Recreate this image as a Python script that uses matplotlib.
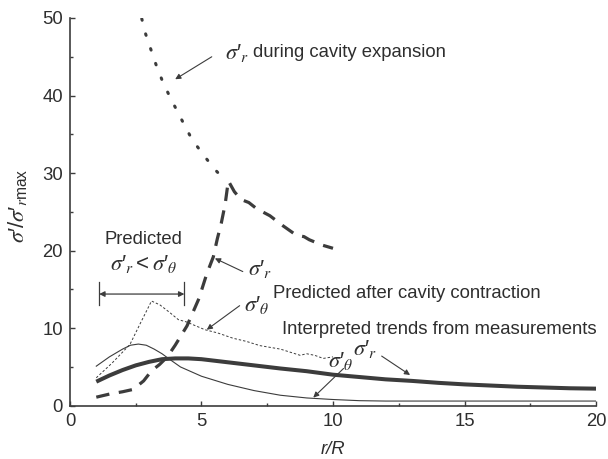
import matplotlib
matplotlib.use("Agg")
import matplotlib.pyplot as plt

plt.rcParams["font.family"] = ["Liberation Sans", "DejaVu Sans"]
plt.rcParams["mathtext.fontset"] = "custom"
plt.rcParams["mathtext.it"] = "STIXGeneral:italic"
plt.rcParams["mathtext.rm"] = "Liberation Sans"
plt.rcParams["mathtext.sf"] = "Liberation Sans"
plt.rcParams["mathtext.fallback"] = "stix"

INK = "#3c3c3c"
TXT = "#2e2e2e"

# radial stress during cavity expansion (dotted)
exp_r = [2.73, 2.88, 3.08, 3.27, 3.50, 3.76, 4.03, 4.32, 4.63, 5.06, 5.50, 5.75]
exp_s = [49.9, 47.9, 45.9, 44.0, 42.0, 40.1, 38.3, 36.4, 34.4, 32.4, 30.5, 29.6]

# predicted radial stress after cavity contraction (thick dashed)
pr_r = [1.0, 1.5, 2.0, 2.4, 2.8, 3.1, 3.4, 3.7, 4.0, 4.45, 4.9, 5.2, 5.45, 5.6,
        5.75, 5.9, 6.02, 6.25, 6.5, 6.8, 7.1, 7.6, 8.1, 8.6, 8.9, 9.1, 9.6, 10.0]
pr_s = [1.1, 1.5, 1.8, 2.1, 3.2, 4.5, 5.3, 6.3, 7.8, 10.3, 13.8, 17.0, 19.2, 21.5,
        23.5, 26.0, 29.0, 27.6, 26.6, 26.2, 25.4, 24.5, 23.2, 22.0, 21.8, 21.4, 20.7, 20.3]

# predicted hoop stress after cavity contraction (fine dashed)
pt_r = [1.0, 1.6, 2.28, 2.7, 3.1, 3.42, 3.8, 4.12, 4.43, 5.13, 5.6, 6.2, 6.7, 7.22,
        8.0, 8.75, 9.0, 9.3, 9.63, 10.0]
pt_s = [3.6, 5.5, 7.9, 10.8, 13.5, 13.0, 12.0, 11.1, 10.8, 9.8, 9.4, 8.7, 8.3, 7.75,
        7.3, 6.5, 6.7, 6.5, 6.1, 6.3]

# interpreted radial trend from measurements (thick solid)
mr_r = [1, 1.5, 2, 2.5, 3, 3.5, 4, 4.5, 5, 6, 7, 8, 9, 10, 11, 12, 13, 14, 15, 16,
        17, 18, 19, 20]
mr_s = [3.1, 3.9, 4.6, 5.2, 5.65, 6.0, 6.1, 6.1, 6.0, 5.6, 5.2, 4.8, 4.45, 4.0,
        3.7, 3.4, 3.2, 2.95, 2.75, 2.6, 2.45, 2.35, 2.25, 2.2]

# interpreted hoop trend from measurements (thin solid)
mt_r = [1, 1.5, 2, 2.3, 2.6, 2.9, 3.2, 3.5, 3.74, 4.2, 5, 6, 7, 8, 9, 10, 11, 12,
        14, 16, 18, 20]
mt_s = [5.1, 6.3, 7.3, 7.8, 7.95, 7.8, 7.3, 6.7, 6.1, 5.0, 3.8, 2.75, 1.95, 1.35,
        1.0, 0.8, 0.65, 0.6, 0.6, 0.6, 0.6, 0.6]

x_ticks = [0, 5, 10, 15, 20]
y_ticks = [0, 10, 20, 30, 40, 50]

FS = 13.3
MS = 16

SR = "$\\sigma{\u2032}_r$"
ST = "$\\sigma{\u2032}_\\theta$"

fig = plt.figure(figsize=(6.08, 4.59), dpi=100)
ax = fig.add_axes([0.1151, 0.1161, 0.8652, 0.8447])

ax.plot(exp_r, exp_s, color=INK, lw=2.2, linestyle=(0, (0.5, 4.6)),
        dash_capstyle="round", solid_capstyle="round")
ax.plot(pr_r, pr_s, color=INK, lw=2.3, linestyle=(0, (4.2, 3.0)),
        dash_capstyle="butt")
ax.plot(pt_r, pt_s, color=INK, lw=0.7, linestyle=(0, (2.5, 2.0)))
ax.plot(mr_r, mr_s, color=INK, lw=2.9, solid_capstyle="butt")
ax.plot(mt_r, mt_s, color=INK, lw=0.8)

ax.set_xlim(0, 20)
ax.set_ylim(0, 50)
ax.set_xticks(x_ticks)
ax.set_yticks(y_ticks)
ax.set_xticks([2.5, 7.5, 12.5, 17.5], minor=True)
ax.set_yticks([5, 15, 25, 35, 45], minor=True)
ax.tick_params(which="both", direction="in", colors=INK, labelcolor=TXT,
               labelsize=FS, width=1.0)
ax.tick_params(which="major", length=3.8, pad=5)
ax.tick_params(which="minor", length=2.4)
for side in ("top", "right"):
    ax.spines[side].set_visible(False)
for side in ("left", "bottom"):
    ax.spines[side].set_color(INK)
    ax.spines[side].set_linewidth(1.2)

ax.set_xlabel("r/R", fontsize=FS, style="italic", color=TXT, labelpad=8)
ax.set_ylabel("$\\sigma{\u2032}/\\sigma{\u2032}_{r\\mathrm{max}}$", fontsize=MS,
              color=TXT)
ax.yaxis.set_label_coords(-0.078, 0.515)

arrow = dict(arrowstyle="-|>", color=INK, lw=0.8, mutation_scale=8,
             shrinkA=0, shrinkB=0)

# expansion label
ax.annotate("", xy=(4.0, 42.1), xytext=(5.39, 45.0), arrowprops=arrow)
ax.text(5.9, 45.5, SR, fontsize=MS, color=TXT, va="center", ha="left")
ax.text(6.95, 45.5, "during cavity expansion", fontsize=FS,
        color=TXT, va="center", ha="left")

# after-contraction labels
ax.annotate("", xy=(5.51, 19.0), xytext=(6.57, 17.3), arrowprops=arrow)
ax.text(6.75, 17.6, SR, fontsize=MS, color=TXT, va="center")
ax.annotate("", xy=(5.2, 9.8), xytext=(6.45, 12.9), arrowprops=arrow)
ax.text(6.6, 13.0, ST, fontsize=MS, color=TXT, va="center")
ax.text(7.7, 14.5, "Predicted after cavity contraction", fontsize=FS,
        color=TXT, va="center")

# measurement trend labels
ax.text(8.05, 9.8, "Interpreted trends from measurements", fontsize=FS,
        color=TXT, va="center", clip_on=False)
ax.text(9.8, 5.8, ST, fontsize=MS, color=TXT, va="center")
ax.text(10.75, 7.3, SR, fontsize=MS, color=TXT, va="center")
ax.annotate("", xy=(9.25, 1.05), xytext=(10.4, 4.8), arrowprops=arrow)
ax.annotate("", xy=(12.93, 3.96), xytext=(11.85, 6.4), arrowprops=arrow)

# bracket marking the range where sigma_r < sigma_theta
ax.plot([1.11, 1.11], [13.0, 16.0], color=INK, lw=0.9)
ax.plot([4.35, 4.35], [13.0, 16.0], color=INK, lw=0.9)
ax.annotate("", xy=(1.11, 14.4), xytext=(4.35, 14.4),
            arrowprops=dict(arrowstyle="<|-|>", color=INK, lw=0.9,
                            mutation_scale=8, shrinkA=0, shrinkB=0))
ax.text(2.8, 21.4, "Predicted", fontsize=FS, color=TXT, ha="center", va="center")
ax.text(2.8, 18.3, "$\\sigma{\u2032}_r < \\sigma{\u2032}_\\theta$", fontsize=MS,
        color=TXT, ha="center", va="center")

fig.savefig("out.png", dpi=100)
